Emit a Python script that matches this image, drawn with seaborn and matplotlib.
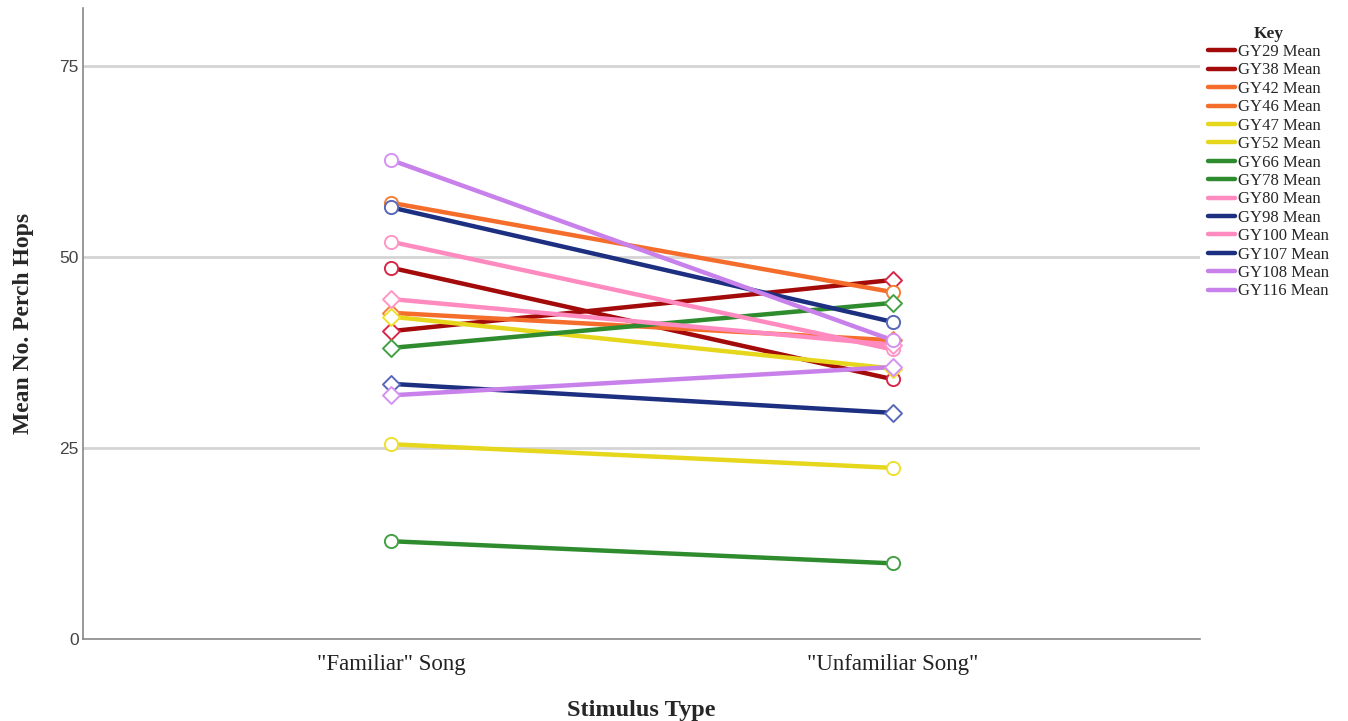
import numpy as np
import pandas as pd
import matplotlib
matplotlib.use("Agg")
import matplotlib.pyplot as plt
from matplotlib.lines import Line2D
import seaborn as sns

# Stimulus conditions on the x axis
conditions = ['"Familiar" Song', '"Unfamiliar Song"']

# Birds, in key order
birds = ["GY29", "GY38", "GY42", "GY46", "GY47", "GY52", "GY66", "GY78",
         "GY80", "GY98", "GY100", "GY107", "GY108", "GY116"]

# Mean number of perch hops per bird under each condition
familiar = [48.6, 40.3, 57.1, 42.7, 25.5, 42.2, 12.8, 38.1,
            52.0, 56.5, 44.5, 33.4, 62.7, 31.9]
unfamiliar = [34.0, 47.0, 45.4, 39.1, 22.4, 35.4, 9.9, 44.0,
              37.9, 41.5, 38.5, 29.6, 39.1, 35.6]

# Line colours and marker outline colours per bird
line_colors = ["#a30a0a", "#a30a0a", "#f46d2b", "#f46d2b", "#e6d61c", "#e6d61c",
               "#2e8b2e", "#2e8b2e", "#ff8abf", "#1c2f80", "#ff8abf", "#1c2f80",
               "#c880ea", "#c880ea"]
marker_colors = ["#d8284a", "#d8284a", "#f28038", "#f28038", "#eee030", "#eee030",
                 "#45a045", "#45a045", "#ff96c6", "#5867b8", "#ff96c6", "#5867b8",
                 "#d492f2", "#d492f2"]
marker_shapes = ["o", "D", "o", "D", "o", "D", "o", "D",
                 "o", "o", "D", "D", "o", "D"]

rows = []
for b, f, u in zip(birds, familiar, unfamiliar):
    rows.append({"bird": b, "pos": 0, "value": f})
    rows.append({"bird": b, "pos": 1, "value": u})
df = pd.DataFrame(rows)

sns.set_theme(style="white")
plt.rcParams["font.family"] = ["Liberation Serif", "DejaVu Serif"]

fig = plt.figure(figsize=(13.48, 7.21), dpi=100)
ax = fig.add_axes([83 / 1348, 1 - 639 / 721, (1200 - 83) / 1348, (639 - 8) / 721])

palette = dict(zip(birds, line_colors))
sns.lineplot(data=df, x="pos", y="value", hue="bird", hue_order=birds,
             palette=palette, linewidth=3.2, legend=False, ax=ax,
             estimator=None, sort=False, zorder=3)

for b, mc, ms in zip(birds, marker_colors, marker_shapes):
    sub = df[df["bird"] == b]
    sns.scatterplot(data=sub, x="pos", y="value", marker=ms,
                    s=90 if ms == "o" else 75, facecolor="white",
                    edgecolor=mc, linewidth=1.4, legend=False, ax=ax, zorder=4)

ax.set_xlim(-0.614, 1.612)
ax.set_ylim(0, 82.6)
ax.set_xticks([0, 1])
ax.set_xticklabels(conditions, fontsize=16.5, family=["Liberation Serif"], color="#222222")
ax.set_yticks([0, 25, 50, 75])
ax.set_yticklabels(["0", "25", "50", "75"], fontsize=12.5,
                   family=["Liberation Sans"], color="#444444")
ax.tick_params(axis="y", length=0, pad=3)
ax.tick_params(axis="x", length=0, pad=11)

for y in [25, 50, 75]:
    ax.axhline(y, color="#d4d4d4", linewidth=2.0, zorder=1)

for side in ["top", "right"]:
    ax.spines[side].set_visible(False)
for side in ["left", "bottom"]:
    ax.spines[side].set_color("#888888")
    ax.spines[side].set_linewidth(1.2)

ax.set_xlabel("Stimulus Type", fontsize=17.5, fontweight="bold",
              family=["Liberation Serif"], labelpad=18)
ax.set_ylabel("Mean No. Perch Hops", fontsize=17, fontweight="bold",
              family=["Liberation Serif"], labelpad=18)

handles = [Line2D([0], [0], color=c, linewidth=3.2) for c in line_colors]
labels = [f"{b} Mean" for b in birds]
leg = fig.legend(handles, labels, title="Key", loc="upper left",
                 bbox_to_anchor=(1201 / 1348, 1 - 19 / 721), frameon=False,
                 prop={"family": "Liberation Serif", "size": 12},
                 handlelength=1.65, handletextpad=0.18, labelspacing=0.145,
                 borderaxespad=0)
leg.get_title().set_fontweight("bold")
leg.get_title().set_fontsize(12.5)
leg.get_title().set_family("Liberation Serif")

fig.savefig("out.png", dpi=100)
